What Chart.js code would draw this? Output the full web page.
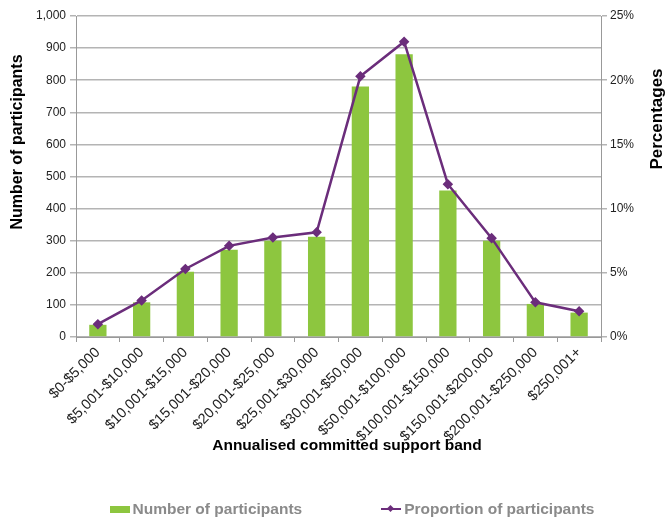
<!DOCTYPE html>
<html>
<head>
<meta charset="utf-8">
<script src="https://cdn.jsdelivr.net/npm/chart.js@4/dist/chart.umd.min.js"></script>
<style>
  body { margin: 0; background: #fff; }
  #wrap { position: relative; width: 666px; height: 519px; }
  #legend {
    position: absolute; left: 0; top: 498px; width: 666px; height: 22px;
    display: flex; justify-content: center; align-items: center;
    padding-left: 38px; box-sizing: border-box; gap: 79px;
    font: bold 15.5px "Liberation Sans", Arial, sans-serif; color: #8a8a8a;
  }
  .item { display: flex; align-items: center; }
  .box { width: 20px; height: 7px; background: #8dc63f; margin-right: 3px; }
  .ln { position: relative; width: 20px; height: 2px; background: #6b2d7b; margin-right: 3px; }
  .ln::after {
    content: ""; position: absolute; left: 7px; top: -2px; width: 5px; height: 5px;
    background: #6b2d7b; transform: rotate(45deg);
  }
</style>
</head>
<body>
<div id="wrap">
  <canvas id="band-chart" width="666" height="519"></canvas>
  <div id="legend">
    <div class="item"><span class="box"></span>Number of participants</div>
    <div class="item"><span class="ln"></span>Proportion of participants</div>
  </div>
</div>
<script>
var bands = ["$0-$5,000", "$5,001-$10,000", "$10,001-$15,000", "$15,001-$20,000",
  "$20,001-$25,000", "$25,001-$30,000", "$30,001-$50,000", "$50,001-$100,000",
  "$100,001-$150,000", "$150,001-$200,000", "$200,001-$250,000", "$250,001+"];
var participants = [38, 108, 203, 272, 300, 312, 780, 881, 456, 300, 103, 76];
var proportion = [1.0, 2.85, 5.3, 7.1, 7.75, 8.15, 20.3, 23.0, 11.9, 7.7, 2.7, 2.0];
var countTicks = [0, 100, 200, 300, 400, 500, 600, 700, 800, 900, 1000];
var pctTicks = [0, 5, 10, 15, 20, 25];

Chart.defaults.font.family = '"Liberation Sans", Arial, sans-serif';
Chart.defaults.color = '#222';

// axis titles sit off-centre in the original, so draw them by hand
function drawTitle(ctx, text, font, x, y, angle) {
  ctx.save();
  ctx.fillStyle = '#000';
  ctx.textAlign = 'center';
  ctx.textBaseline = 'middle';
  ctx.font = font;
  ctx.translate(x, y);
  ctx.rotate(angle);
  ctx.fillText(text, 0, 0);
  ctx.restore();
}

var axisTitles = {
  id: 'axisTitles',
  afterDraw: function(chart) {
    var ctx = chart.ctx;
    drawTitle(ctx, 'Number of participants', 'bold 16px "Liberation Sans", Arial, sans-serif', 18, 142, -Math.PI / 2);
    drawTitle(ctx, 'Percentages', 'bold 17px "Liberation Sans", Arial, sans-serif', 657, 119, -Math.PI / 2);
    drawTitle(ctx, 'Annualised committed support band', 'bold 15.5px "Liberation Sans", Arial, sans-serif', 347, 446, 0);
  }
};

var gridColor = '#b4b4b4';
var axisColor = '#999';

new Chart(document.getElementById('band-chart').getContext('2d'), {
  type: 'bar',
  data: {
    labels: bands,
    datasets: [{
      type: 'line',
      label: 'Proportion of participants',
      data: proportion,
      yAxisID: 'y1',
      borderColor: '#6b2d7b',
      backgroundColor: '#6b2d7b',
      borderWidth: 2.5,
      pointStyle: 'rectRot',
      pointRadius: 3.5,
      tension: 0,
      order: 0
    }, {
      label: 'Number of participants',
      data: participants,
      yAxisID: 'y',
      backgroundColor: '#8dc63f',
      categoryPercentage: 1,
      barPercentage: 0.395,
      order: 1
    }]
  },
  options: {
    responsive: false,
    animation: false,
    devicePixelRatio: 1,
    layout: { padding: { top: 16, left: 0, right: 0, bottom: 63 } },
    plugins: { legend: { display: false }, tooltip: { enabled: false } },
    scales: {
      x: {
        offset: true,
        grid: { offset: true, drawOnChartArea: false, tickLength: 5, color: axisColor },
        border: { color: axisColor },
        ticks: { minRotation: 45, maxRotation: 45, padding: 2, font: { size: 14.5 }, color: '#222' },
        afterFit: function(s) { s.height = 119; }
      },
      y: {
        position: 'left',
        min: 0, max: 1000,
        afterBuildTicks: function(s) { s.ticks = countTicks.map(function(v) { return { value: v }; }); },
        ticks: {
          font: { size: 12 }, padding: 4,
          callback: function(v) { return v.toLocaleString('en-US'); }
        },
        grid: { color: gridColor, lineWidth: 1.5, tickLength: 6 },
        border: { color: axisColor },
        afterFit: function(s) { s.width = 76; }
      },
      y1: {
        position: 'right',
        min: 0, max: 25,
        afterBuildTicks: function(s) { s.ticks = pctTicks.map(function(v) { return { value: v }; }); },
        ticks: {
          font: { size: 12 }, padding: 3,
          callback: function(v) { return v + '%'; }
        },
        grid: { drawOnChartArea: false, color: gridColor, lineWidth: 1.5, tickLength: 6 },
        border: { color: axisColor },
        afterFit: function(s) { s.width = 65; }
      }
    }
  },
  plugins: [axisTitles]
});
</script>
</body>
</html>
